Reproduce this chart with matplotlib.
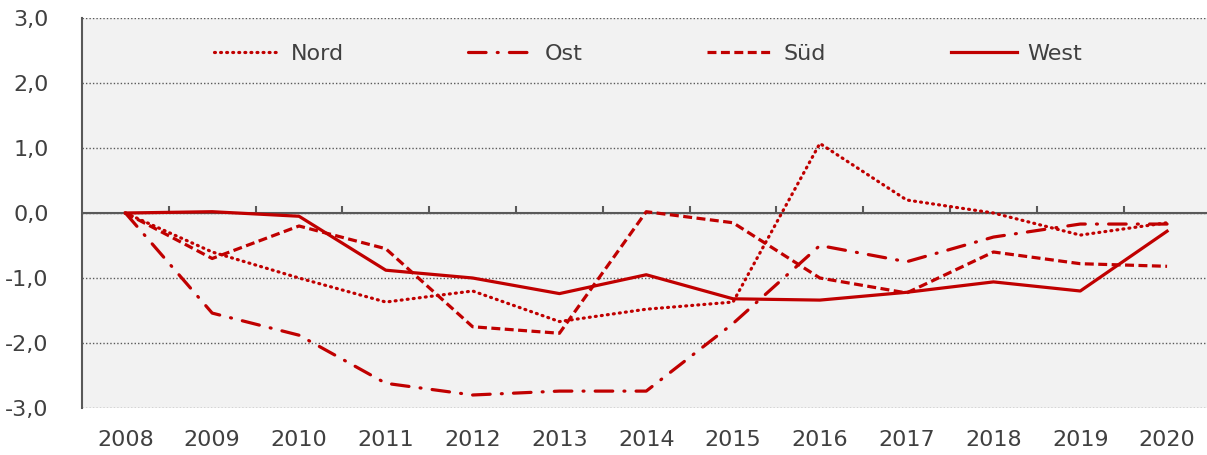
import matplotlib.pyplot as plt
from matplotlib.ticker import FuncFormatter

years = [2008, 2009, 2010, 2011, 2012, 2013, 2014, 2015, 2016, 2017, 2018, 2019, 2020]
nord = [0.0, -0.6, -1.0, -1.37, -1.2, -1.67, -1.48, -1.37, 1.07, 0.2, 0.0, -0.34, -0.15]
ost = [0.0, -1.54, -1.88, -2.62, -2.8, -2.74, -2.74, -1.7, -0.5, -0.75, -0.37, -0.17, -0.17]
sued = [0.0, -0.7, -0.2, -0.55, -1.75, -1.85, 0.02, -0.15, -1.0, -1.23, -0.6, -0.78, -0.82]
west = [0.0, 0.02, -0.05, -0.88, -1.0, -1.24, -0.95, -1.32, -1.34, -1.22, -1.06, -1.2, -0.28]

red = "#C00000"
grey = "#595959"
txt = "#404040"

plt.rcParams["axes.unicode_minus"] = False

fig = plt.figure(figsize=(12.07, 4.55), dpi=100)
ax = fig.add_axes([82 / 1207, 1 - 408 / 455, 1 - 82 / 1207, 390 / 455])
ax.set_facecolor("#F2F2F2")

x = list(range(len(years)))
lw = 2.3
ax.plot(x, nord, color=red, lw=lw, linestyle=(0, (0.3, 1.6)), dash_capstyle="round", label="Nord")
ax.plot(x, ost, color=red, lw=lw, linestyle=(0, (5.5, 3.5, 0.3, 3.5)), dash_capstyle="round", label="Ost")
ax.plot(x, sued, color=red, lw=lw, linestyle=(0, (2.8, 1.4)), label="Süd")
ax.plot(x, west, color=red, lw=lw, linestyle="-", label="West")

ax.set_xlim(-0.5, 12.46)
ax.set_ylim(-3, 3)
ax.set_yticks([-3, -2, -1, 0, 1, 2, 3])
ax.yaxis.set_major_formatter(FuncFormatter(lambda v, p: f"{v:.1f}".replace(".", ",")))
ax.grid(axis="y", color=grey, linestyle=(0, (1, 1.5)), lw=1.0)
ax.set_axisbelow(True)
ax.axhline(0, color=grey, lw=1.5, zorder=1.5)

for s in ["top", "right", "bottom"]:
    ax.spines[s].set_visible(False)
ax.spines["left"].set_color(grey)
ax.spines["left"].set_linewidth(1.5)

ax.set_xticks(x)
ax.set_xticklabels([str(y) for y in years])
ax.tick_params(axis="x", length=0, pad=16, labelsize=16, labelcolor=txt)
ax.tick_params(axis="y", length=0, pad=24, labelsize=16, labelcolor=txt)

# Tick marks at category boundaries on the zero line
sec = ax.secondary_xaxis(0.5)
sec.set_xticks([i + 0.5 for i in range(len(years) - 1)])
sec.set_xticklabels([])
sec.spines["bottom"].set_visible(False)
sec.tick_params(axis="x", direction="out", length=5, width=1.5, color=grey)

leg = ax.legend(loc="center", bbox_to_anchor=(0.503, 0.908), ncol=4, frameon=False,
                fontsize=16, handlelength=3.0, columnspacing=5.6, handletextpad=0.45)
for t in leg.get_texts():
    t.set_color(txt)

fig.savefig("out.png", dpi=100)
